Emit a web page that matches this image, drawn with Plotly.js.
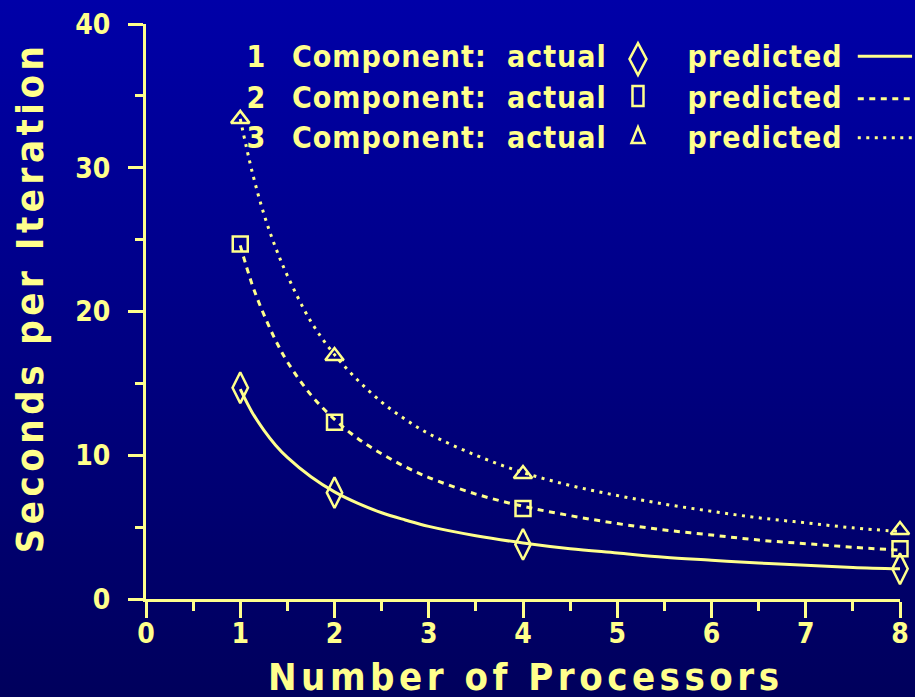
<!DOCTYPE html>
<html>
<head>
<meta charset="utf-8">
<script src="https://cdn.plot.ly/plotly-3.0.1.min.js"></script>
<style>
  html, body { margin: 0; padding: 0; background: #00007c; }
  #chart { width: 915px; height: 697px; background: linear-gradient(to bottom, #0000a8 0%, #00005c 100%); }
  .annotation text { letter-spacing: 1px; }
  .annotation[data-index="0"] text, .annotation[data-index="1"] text { letter-spacing: 4.5px; }
</style>
</head>
<body>
<div id="chart"></div>
<script>
// ---- data ----
const processors = [1, 2, 4, 8];
const actual1 = [14.7, 7.4, 3.8, 2.1];
const actual2 = [24.7, 12.3, 6.3, 3.5];
const actual3 = [33.4, 16.9, 8.7, 4.8];

const predX = [1, 1.125, 1.25, 1.375, 1.5, 1.75, 2, 2.25, 2.5, 2.75, 3, 3.5, 4, 4.5, 5, 5.5, 6, 6.5, 7, 7.5, 8];
const pred1 = [14.6, 13.0, 11.75, 10.7, 9.85, 8.5, 7.45, 6.65, 6.0, 5.5, 5.05, 4.4, 3.9, 3.5, 3.2, 2.9, 2.7, 2.5, 2.35, 2.2, 2.1];
const pred2 = [24.6, 21.9, 19.8, 18.0, 16.5, 14.2, 12.5, 11.15, 10.1, 9.2, 8.45, 7.3, 6.45, 5.8, 5.25, 4.8, 4.45, 4.1, 3.85, 3.6, 3.4];
const pred3 = [33.4, 29.75, 26.8, 24.45, 22.5, 19.3, 17.0, 15.2, 13.7, 12.5, 11.5, 10.0, 8.8, 7.9, 7.2, 6.6, 6.1, 5.65, 5.3, 4.95, 4.7];

const rowLabels = ['1', '2', '3'];
const xTitle = 'Number of Processors';
const yTitle = 'Seconds per Iteration';

// ---- styling ----
const ink = '#ffff8c';
const fam = '"DejaVu Sans Condensed", "DejaVu Sans", sans-serif';
const dashes = ['solid', '6px,5.5px', '3px,5.5px'];
const symbols = ['diamond-tall-open', 'square-open', 'triangle-up-open'];
const sizes = [22, 15, 16];
const preds = [pred1, pred2, pred3];
const actuals = [actual1, actual2, actual3];

const traces = [];
for (let i = 0; i < 3; i++) {
  traces.push({
    x: predX, y: preds[i], type: 'scatter', mode: 'lines',
    line: {color: ink, width: 3, dash: dashes[i], shape: 'spline', smoothing: 1},
    showlegend: false, hoverinfo: 'skip'
  });
}
for (let i = 0; i < 3; i++) {
  traces.push({
    x: processors, y: actuals[i], type: 'scatter', mode: 'markers',
    marker: {symbol: symbols[i], size: sizes[i], color: ink, line: {color: ink, width: 2.5}},
    cliponaxis: false, showlegend: false
  });
}

// legend geometry (paper coords)
const rowY = [0.944, 0.873, 0.803];
const annotations = [
  {text: xTitle, xref: 'paper', yref: 'paper', x: 0.504, y: -0.136, xanchor: 'center', yanchor: 'middle',
   showarrow: false, font: {family: fam, size: 38, color: ink, weight: 'bold'}},
  {text: yTitle, xref: 'paper', yref: 'paper', x: -0.154, y: 0.525, xanchor: 'center', yanchor: 'middle',
   textangle: -90, showarrow: false, font: {family: fam, size: 38, color: ink, weight: 'bold'}}
];
const lf = {family: fam, size: 30, color: ink, weight: 'bold'};
for (let i = 0; i < 3; i++) {
  annotations.push({text: rowLabels[i], xref: 'paper', yref: 'paper', x: 0.1618, y: rowY[i], xanchor: 'right', yanchor: 'middle', showarrow: false, font: lf});
  annotations.push({text: 'Component:', xref: 'paper', yref: 'paper', x: 0.1976, y: rowY[i], xanchor: 'left', yanchor: 'middle', showarrow: false, font: lf});
  annotations.push({text: 'actual', xref: 'paper', yref: 'paper', x: 0.480, y: rowY[i], xanchor: 'left', yanchor: 'middle', showarrow: false, font: lf});
  annotations.push({text: 'predicted', xref: 'paper', yref: 'paper', x: 0.7215, y: rowY[i], xanchor: 'left', yanchor: 'middle', showarrow: false, font: lf});
}

const symPaths = [
  'M0,16 L8.5,0 L0,-16 L-8.5,0 Z',
  'M-5.5,-10 H5.5 V10 H-5.5 Z',
  'M-6.5,-8 H6.5 L0,8 Z'
];
const symY = [0.939, 0.875, 0.807];
const lineY = [0.944, 0.870, 0.802];
const shapes = [];
for (let i = 0; i < 3; i++) {
  shapes.push({type: 'path', xref: 'paper', yref: 'paper', xsizemode: 'pixel', ysizemode: 'pixel',
    xanchor: 0.6525, yanchor: symY[i], path: symPaths[i], line: {color: ink, width: 2.5}});
  shapes.push({type: 'line', xref: 'paper', yref: 'paper', x0: 0.944, x1: 1.016, y0: lineY[i], y1: lineY[i],
    line: {color: ink, width: 3, dash: dashes[i]}});
}

const tickFont = {family: fam, size: 28, color: ink, weight: 'bold'};
const layout = {
  width: 915, height: 697,
  margin: {l: 146, r: 15, t: 24, b: 98},
  paper_bgcolor: 'rgba(0,0,0,0)', plot_bgcolor: 'rgba(0,0,0,0)',
  showlegend: false,
  xaxis: {
    range: [0, 8], tick0: 0, dtick: 1, showgrid: false, zeroline: false,
    showline: true, linecolor: ink, linewidth: 3,
    ticks: 'outside', ticklen: 16, tickwidth: 3, tickcolor: ink,
    minor: {dtick: 0.5, ticks: 'outside', ticklen: 9, tickwidth: 3, tickcolor: ink},
    tickfont: tickFont, ticklabelstandoff: -9
  },
  yaxis: {
    range: [0, 40], tick0: 0, dtick: 10, showgrid: false, zeroline: false,
    showline: true, linecolor: ink, linewidth: 3,
    ticks: 'outside', ticklen: 15, tickwidth: 3, tickcolor: ink,
    minor: {dtick: 5, ticks: 'outside', ticklen: 8, tickwidth: 3, tickcolor: ink},
    tickfont: tickFont, ticklabelstandoff: 12
  },
  annotations: annotations,
  shapes: shapes
};

Plotly.newPlot('chart', traces, layout, {displayModeBar: false, staticPlot: true});
</script>
</body>
</html>
